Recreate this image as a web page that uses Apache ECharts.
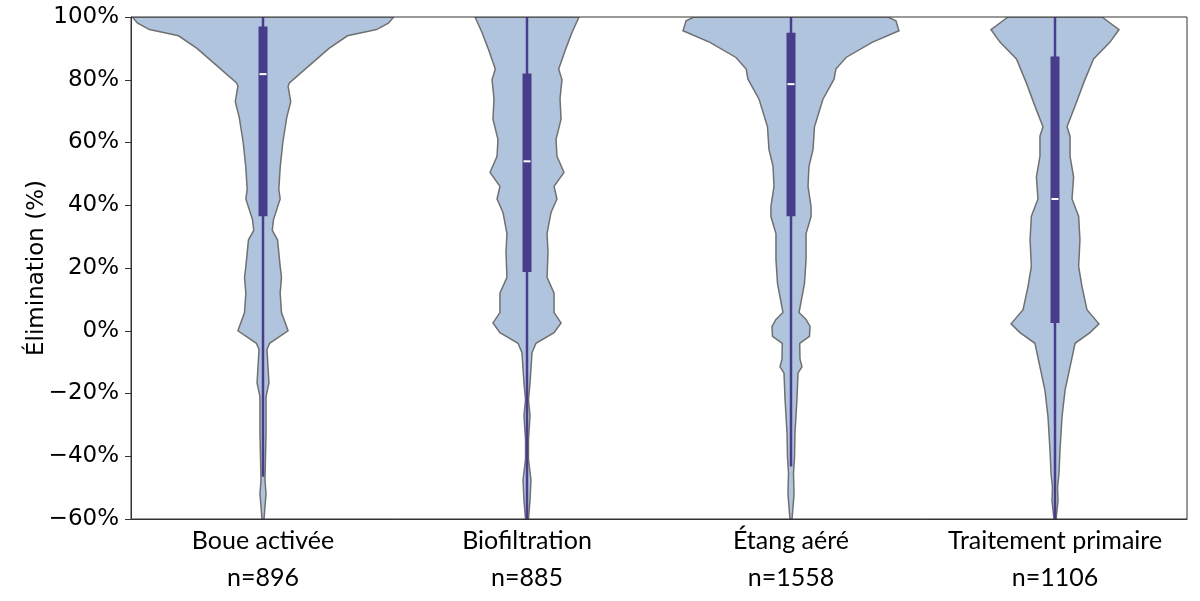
<!DOCTYPE html>
<html lang="fr" style="height: 100%">
<head>
    <meta charset="UTF-8">
    <title>Élimination par type de traitement</title>
    <script src="https://cdn.jsdelivr.net/npm/echarts@6/dist/echarts.min.js"></script>
</head>
<body style="height: 100%; margin: 0">
<div id="main" style="width: 1200px; height: 601px"></div>
<script>
    // categories and sample sizes
    var categories = ['Boue activée', 'Biofiltration', 'Étang aéré', 'Traitement primaire'];
    var counts = [896, 885, 1558, 1106];

    // violin outlines: levels (%) and half-width (% of half a category band)
    var boueLevels = [100, 98, 96, 94, 90, 84.5, 79, 78, 73, 68, 60, 52, 45, 42, 35.5, 32, 29, 20.5, 17, 12, 5.8, 0, -4, -6, -16.6, -21, -32.6, -47.6, -52, -56, -60];
    var boueWidths = [99, 95, 86, 64, 50, 35, 20, 19, 21, 18, 15, 13, 12, 13, 8, 7, 11, 13, 14, 13, 14, 19, 5, 3, 4.5, 2.3, 2.3, 1.5, 2.3, 1.5, 0.8];

    var bioLevels = [100, 95, 90, 83.4, 80, 74, 67.4, 61, 55.6, 50.5, 46, 42, 37.7, 31, 25, 17, 12, 5.8, 2.5, -0.6, -4, -7, -16.6, -22, -27, -34.8, -41, -47.5, -54, -60];
    var bioWidths = [39.4, 34, 29.5, 24, 26.5, 25, 25.8, 22, 22.7, 28, 20.5, 22.7, 18.2, 15.2, 15.9, 15.2, 20.5, 20.5, 25.8, 20.5, 6.8, 3.8, 2.3, 1.1, 2.3, 1.1, 1.1, 3, 2.3, 1.1];

    var etangLevels = [100, 98.8, 95.6, 91.9, 87.1, 83.4, 80.2, 73.8, 65, 57.8, 52.4, 46, 39.6, 36.4, 31, 22.7, 15, 5.8, 3.6, 1.4, -1.8, -4, -9, -11.5, -13.5, -22, -32.6, -40, -45.5, -52, -60];
    var etangWidths = [73.5, 79.5, 81.8, 61.4, 41.7, 34, 32.6, 24.2, 17.8, 16.7, 13.6, 12.9, 15.2, 15.2, 11.4, 11.4, 10.2, 6.1, 11.4, 14.4, 14, 6.6, 6.8, 8.3, 5.3, 4.5, 3, 2.7, 1.9, 2.3, 0.8];

    var primLevels = [100, 96, 92, 86.6, 79, 71.6, 65, 62, 55.6, 49, 42, 36.5, 29, 20.5, 14, 6.7, 2.2, -0.6, -4, -11.5, -19, -27.5, -38, -45.5, -50, -54, -60];
    var primWidths = [35.6, 48.5, 41.7, 29.2, 21.7, 15.2, 9.1, 11.4, 11.4, 14.1, 12.9, 17.9, 18.9, 17.9, 20.5, 24.2, 33.3, 26.5, 15.2, 11.4, 7.6, 5.3, 3.8, 3, 1.9, 2.3, 0.8];

    // box stats per category
    var whiskerLow = [-46.5, -60, -43.3, -60];
    var q1 = [36.5, 18.7, 36.5, 2.5];
    var medians = [81.8, 54, 78.6, 42];
    var q3 = [97, 82, 95, 87.4];
    var whiskerHigh = [100, 100, 100, 100];

    var violinLevels = [boueLevels, bioLevels, etangLevels, primLevels];
    var violinWidths = [boueWidths, bioWidths, etangWidths, primWidths];

    function renderViolin(params, api) {
        var i = api.value(0);
        var lv = violinLevels[i], wd = violinWidths[i];
        var half = api.size([1, 0])[0] / 2;
        var cx = api.coord([i, 0])[0];
        var right = [], left = [];
        for (var k = 0; k < lv.length; k++) {
            var y = api.coord([i, lv[k]])[1];
            var dx = wd[k] / 100 * half;
            right.push([cx + dx, y]);
            left.unshift([cx - dx, y]);
        }
        var yLo = api.coord([i, whiskerLow[i]])[1];
        var yHi = api.coord([i, whiskerHigh[i]])[1];
        var yQ1 = api.coord([i, q1[i]])[1];
        var yQ3 = api.coord([i, q3[i]])[1];
        var yMed = api.coord([i, medians[i]])[1];
        return {
            type: 'group',
            children: [
                {
                    type: 'polygon',
                    shape: {points: right.concat(left)},
                    style: {fill: '#b0c4de', stroke: '#707070', lineWidth: 1.5}
                },
                {
                    type: 'line',
                    shape: {x1: cx, y1: yLo, x2: cx, y2: yHi},
                    style: {stroke: '#483d8b', lineWidth: 2.5}
                },
                {
                    type: 'rect',
                    shape: {x: cx - 4.5, y: yQ3, width: 9, height: yQ1 - yQ3},
                    style: {fill: '#483d8b'}
                },
                {
                    type: 'line',
                    shape: {x1: cx - 3.5, y1: yMed, x2: cx + 3.5, y2: yMed},
                    style: {stroke: '#ffffff', lineWidth: 2}
                }
            ]
        };
    }

    var myChart = echarts.init(document.getElementById('main'));
    var myoption = {
        animation: false,
        grid: {
            left: 131, right: 13, top: 17, bottom: 82,
            show: true, z: 10,
            borderColor: '#333', borderWidth: 1,
            backgroundColor: 'transparent'
        },
        xAxis: {
            type: 'category',
            data: categories,
            boundaryGap: true,
            axisLine: {onZero: false, lineStyle: {color: '#333', width: 1}},
            axisTick: {alignWithLabel: true, length: 5, lineStyle: {color: '#333'}},
            axisLabel: {
                interval: 0,
                color: '#000',
                fontFamily: 'Lato',
                fontSize: 25,
                lineHeight: 37,
                margin: 3,
                formatter: function (value, idx) {
                    return value + '\nn=' + counts[idx];
                }
            }
        },
        yAxis: {
            type: 'value',
            min: -60,
            max: 100,
            interval: 20,
            name: 'Élimination (%)',
            nameLocation: 'middle',
            nameGap: 82,
            nameMoveOverlap: false,
            nameTextStyle: {color: '#000', fontFamily: 'DejaVu Sans', fontSize: 23},
            axisLine: {show: true, lineStyle: {color: '#333', width: 1}},
            axisTick: {show: true, length: 6, lineStyle: {color: '#333'}},
            splitLine: {show: false},
            axisLabel: {
                color: '#000',
                fontFamily: 'DejaVu Sans',
                fontSize: 23,
                margin: 12,
                formatter: function (v) {
                    return String(v).replace('-', '\u2212') + '%';
                }
            }
        },
        series: [{
            type: 'custom',
            renderItem: renderViolin,
            clip: true,
            data: categories.map(function (c, i) { return [i]; }),
            encode: {x: 0}
        }]
    };
    myChart.setOption(myoption);
</script>
</body>
</html>
